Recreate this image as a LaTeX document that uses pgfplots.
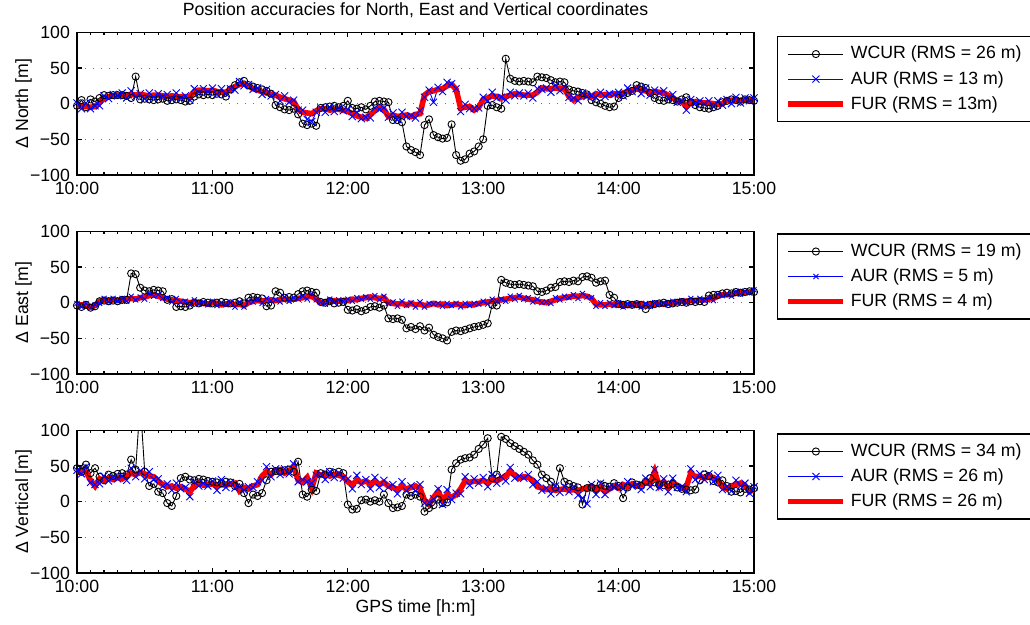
\documentclass[border=0pt]{standalone}
\usepackage{fontspec}
\setmainfont{Liberation Sans}
\usepackage{pgfplots}
\usepackage{pgfplotstable}
\pgfplotsset{compat=1.18}
\newcommand\fs{\fontsize{8.85}{10.6}\selectfont}

\pgfplotstableread{
t wn an fn we ae fe wv av fv
0 -3 1 -2 -4 -1 -3 47 44 40
2 5 -7 -3 -6 -6 -3 42 39 45
4 -5 1 -4 -3 -1 -4 52 49 42
6 6 -7 -5 -7 -7 -6 40 27 30
8 3 -3 -4 -5 -3 -4 47 24 22
10 8 -3 2 2 -1 2 35 25 32
12 12 11 7 3 6 3 30 36 30
14 11 7 10 2 1 3 38 29 33
16 12 13 11 3 6 4 36 34 31
18 12 11 12 2 2 3 39 32 34
20 12 15 12 4 6 4 40 36 32
22 11 8 12 4 2 5 38 30 36
24 8 18 13 41 9 6 59 47 40
26 38 10 12 40 4 5 45 35 38
28 6 14 13 21 8 7 140 43 41
30 7 7 12 17 5 8 42 32 39
32 6 15 11 16 13 10 22 42 36
34 5 9 12 18 9 11 25 31 35
36 6 14 12 17 11 9 14 32 29
38 7 10 11 16 6 7 12 22 24
40 4 13 10 4 7 5 -2 25 21
42 5 7 11 5 1 4 -6 16 22
44 6 15 10 -6 6 3 8 26 19
46 5 8 10 -5 1 2 33 18 21
48 3 11 10 -6 2 1 35 20 18
50 4 5 10 -4 -3 0 31 7 14
52 10 21 17 0 4 1 30 28 22
54 13 16 19 -1 -2 0 32 22 26
56 12 21 19 1 1 -1 31 26 23
58 13 17 18 0 -3 -2 29 22 24
60 12 22 19 -1 2 0 28 29 25
62 14 13 17 0 -4 -1 27 16 22
64 13 21 16 1 0 -3 26 31 24
66 10 14 16 0 -3 -2 28 20 23
68 20 21 20 -1 0 -1 27 27 25
70 26 19 24 0 -6 -3 22 19 26
72 30 31 27 2 1 -2 25 21 15
74 32 25 28 -1 -6 -4 12 16 20
76 26 27 25 7 2 0 -2 21 18
78 24 20 21 8 1 2 10 20 22
80 22 22 19 7 5 3 8 28 24
82 20 13 17 6 -1 2 12 30 36
84 18 20 15 -5 6 3 30 49 42
86 14 11 13 -4 3 4 42 35 38
88 -2 13 12 16 4 3 43 46 44
90 -5 4 9 14 1 4 42 38 45
92 -8 11 7 7 8 5 44 46 40
94 -9 2 5 8 2 4 45 39 43
96 -7 5 3 7 7 5 42 53 50
98 -15 -9 -8 12 5 6 56 28 30
100 -28 -9 -12 16 9 7 10 31 27
102 -30 -22 -13 17 5 8 7 28 34
104 -28 -25 -14 15 12 9 17 26 19
106 -31 -12 -10 14 4 5 15 37 40
108 -6 -6 -7 1 1 0 40 39 37
110 -5 -12 -7 0 -2 1 38 31 38
112 -4 -5 -9 2 5 2 42 42 36
114 -3 -11 -8 -1 1 3 40 34 38
116 -5 -6 -8 0 4 2 42 40 37
118 -3 -10 -9 1 2 3 40 33 35
120 4 -8 -11 -10 5 3 -4 32 28
122 -6 -18 -14 -11 2 5 -11 18 24
124 -7 -12 -17 -9 7 4 -10 37 30
126 -5 -21 -19 -12 5 6 2 24 27
128 -8 -19 -20 -10 8 7 3 31 29
130 -3 -20 -15 -6 5 8 0 18 25
132 3 -6 -10 -5 10 7 2 34 28
134 4 -8 -5 -7 4 6 0 20 24
136 3 -6 -8 -4 9 7 10 30 27
138 2 -19 -18 -22 -1 0 -2 20 22
140 -23 -13 -16 -23 1 -1 -9 24 20
142 -23 -22 -18 -22 -5 -2 -8 11 17
144 -26 -12 -17 -24 2 -1 -6 28 21
146 -60 -18 -16 -36 -4 -3 10 15 18
148 -65 -17 -18 -34 0 -1 8 22 20
150 -68 -20 -15 -37 -6 -3 10 15 22
152 -72 -10 -14 -33 1 -2 7 24 18
154 -30 9 12 -39 -6 -4 -14 -2 2
156 -22 19 17 -35 -1 -3 -9 -1 -4
158 -44 2 18 -45 -2 -1 -5 4 6
160 -47 23 20 -48 -1 -3 3 18 14
162 -49 17 21 -50 -5 -2 -2 -4 2
164 -48 30 25 -53 -1 -4 -1 17 10
166 -29 28 27 -41 -4 -3 45 3 6
168 -72 21 20 -39 -1 -2 54 12 10
170 -80 -11 -6 -40 -6 -3 59 11 18
172 -78 -1 -5 -38 -1 -4 61 35 29
174 -70 -7 -4 -36 -4 -2 62 23 27
176 -67 -7 -9 -34 -1 -3 66 32 29
178 -60 -6 -5 -33 -2 -1 74 26 28
180 -50 9 6 -31 2 0 80 34 30
182 -3 4 8 -29 -2 1 89 21 27
184 -2 16 11 -3 5 2 33 38 31
186 -5 8 10 -4 2 3 38 26 29
188 -7 9 8 32 5 4 91 35 33
190 63 5 10 28 2 5 88 29 36
192 35 16 12 26 9 6 82 48 42
194 32 11 14 25 5 7 78 33 37
196 31 15 13 26 10 8 74 36 33
198 32 11 12 25 5 6 70 33 35
200 31 15 12 24 7 5 66 38 34
202 30 8 12 23 1 4 58 24 30
204 38 21 16 16 5 2 52 28 21
206 37 20 22 15 0 1 38 16 19
208 36 22 21 17 1 0 33 19 17
210 33 16 21 21 -1 2 28 11 18
212 30 26 22 22 7 4 20 22 16
214 31 18 21 29 4 6 47 13 17
216 30 23 21 30 9 7 28 21 18
218 20 9 10 29 7 8 25 14 16
220 18 8 5 31 11 9 22 21 17
222 17 4 8 30 6 9 20 9 15
224 15 15 10 36 13 10 -4 5 18
226 13 10 12 37 8 9 19 -3 19
228 5 11 10 35 7 6 20 24 22
230 2 9 14 28 -5 -2 18 10 17
232 0 16 12 30 0 -3 24 26 20
234 -3 10 13 31 -5 -3 22 10 14
236 -5 14 12 11 0 -2 21 21 18
238 -4 13 14 7 -4 -3 26 20 22
240 8 16 13 -2 0 -2 22 23 19
242 12 11 15 -3 -6 -3 5 18 24
244 15 22 17 -2 -1 -4 20 28 21
246 18 17 19 -3 -4 -3 27 22 25
248 26 22 21 -2 -1 -2 24 24 22
250 24 14 19 -3 -6 -3 22 17 24
252 22 22 18 -9 -1 -4 28 33 27
254 15 12 15 -3 -5 -3 33 21 25
256 8 19 17 -2 0 -2 27 45 42
258 5 15 16 -1 -2 -1 24 20 22
260 4 18 15 0 0 -2 23 32 28
262 6 8 12 -2 -3 0 24 14 20
264 5 13 8 -1 2 -1 25 33 26
266 3 2 4 0 0 1 20 20 23
268 6 4 3 1 3 2 18 21 19
270 9 -9 -4 0 -1 2 17 14 21
272 2 6 2 2 6 3 16 46 40
274 -2 0 3 1 1 3 17 31 35
276 -5 4 2 2 6 4 30 39 36
278 -6 0 1 1 3 4 38 31 33
280 -7 4 1 10 7 5 36 39 35
282 -5 -4 0 11 3 6 29 28 34
284 -3 4 -1 11 12 9 27 37 30
286 2 -2 0 13 10 11 30 17 21
288 4 6 5 14 12 11 22 21 18
290 6 0 5 13 9 12 14 15 22
292 5 9 5 15 16 13 15 30 24
294 3 1 4 14 12 14 13 22 26
296 6 8 6 15 16 14 18 26 23
298 5 4 5 16 14 15 17 12 14
300 4 8 5 15 18 16 19 21 17
}\data

\pgfplotsset{
 panel/.style={
  scale only axis, width=338.5pt, height=71.3pt,
  xmin=0, xmax=300, ymin=-100, ymax=100,
  xtick={0,60,...,300}, xticklabels={10:00,11:00,12:00,13:00,14:00,15:00},
  ytick={-100,-50,0,50,100}, yticklabels={−100,−50,0,50,100},
  minor x tick num=9,
  tick align=inside, major tick length=2.5pt, minor tick length=1.3pt,
  ymajorgrids, major grid style={black!55, line width=0.5pt, dash pattern=on 0.5pt off 3.5pt},
  axis line style={line width=0.8pt},
  every tick/.append style={black, line width=0.6pt},
  tick label style={font=\fs}, label style={font=\fs},
  ylabel style={at={(axis description cs:-0.079,0.5)}, anchor=center},
  legend style={font=\fs, anchor=north west, draw=black, line width=0.6pt,
    inner xsep=4pt, inner ysep=2.5pt, nodes={inner sep=2.3pt}, cells={anchor=west}},
  legend image code/.code={\draw[mark repeat=2,mark phase=2,##1] plot coordinates {(0pt,0pt)(13.75pt,0pt)(27.5pt,0pt)};},
 },
 wc/.style={black, line width=0.45pt, mark=o, mark size=1.8pt, mark options={solid, line width=0.45pt}},
 au/.style={blue, line width=0.45pt, mark=x, mark size=2.5pt, mark options={solid}},
 fu/.style={red, line width=2.8pt, no marks},
}

\begin{document}
\begin{tikzpicture}
\useasboundingbox (0,0) rectangle (515pt,312.5pt);
\node[font=\fs] at (207.75pt,307.5pt) {Position accuracies for North, East and Vertical coordinates};

\begin{axis}[panel, at={(38.5pt,225pt)}, anchor=south west, ylabel={Δ North [m]},
  legend style={at={(1.034,0.975)}}]
\addplot[wc] table[x=t,y=wn]{\data}; \addlegendentry{WCUR (RMS = 26 m)}
\addplot[au] table[x=t,y=an]{\data}; \addlegendentry{AUR (RMS = 13 m)}
\addplot[fu] table[x=t,y=fn]{\data}; \addlegendentry{FUR (RMS = 13m)}
\end{axis}

\begin{axis}[panel, at={(38.5pt,125.5pt)}, anchor=south west, ylabel={Δ East [m]},
  legend style={at={(1.034,0.986)}}]
\addplot[wc] table[x=t,y=we]{\data}; \addlegendentry{WCUR (RMS = 19 m)}
\addplot[au, mark size=1.8pt] table[x=t,y=ae]{\data}; \addlegendentry{AUR (RMS = 5 m)}
\addplot[fu] table[x=t,y=fe]{\data}; \addlegendentry{FUR (RMS = 4 m)}
\end{axis}

\begin{axis}[panel, at={(38.5pt,26pt)}, anchor=south west, ylabel={Δ Vertical [m]},
  xlabel={GPS time [h:m]}, xlabel style={at={(axis description cs:0.5,-0.245)}, anchor=center},
  legend style={at={(1.034,0.979)}}]
\addplot[wc] table[x=t,y=wv]{\data}; \addlegendentry{WCUR (RMS = 34 m)}
\addplot[au] table[x=t,y=av]{\data}; \addlegendentry{AUR (RMS = 26 m)}
\addplot[fu] table[x=t,y=fv]{\data}; \addlegendentry{FUR (RMS = 26 m)}
\end{axis}
\end{tikzpicture}
\end{document}
